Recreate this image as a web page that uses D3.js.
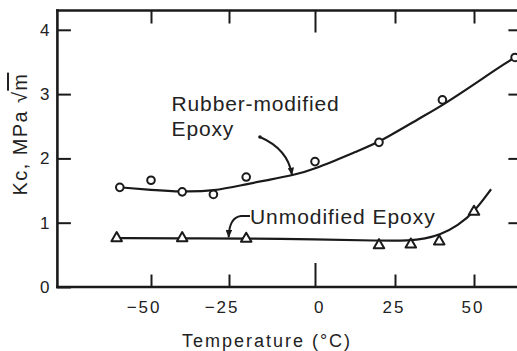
<!DOCTYPE html>
<html><head><meta charset="utf-8">
<script src="https://cdn.jsdelivr.net/npm/d3@7/dist/d3.min.js"></script>
<style>
html,body{margin:0;padding:0;background:#fff;}
svg{display:block;}
text{font-family:"Liberation Sans",Arial,Helvetica,sans-serif;fill:#222;}
</style></head>
<body>
<svg id="chart" width="517" height="351"></svg>
<script>
// ---- data ----
const tempTicks = [-50, -25, 0, 25, 50];
const kcTicks = [0, 1, 2, 3, 4];

// Rubber-modified epoxy: measured points (circles)
const rubberTemp = [-60, -50, -40, -30, -20, 0, 20, 40, 63];
const rubberKc   = [1.55, 1.66, 1.48, 1.44, 1.71, 1.95, 2.25, 2.91, 3.57];
// Rubber-modified epoxy: hand-drawn trend curve
const rubberFitTemp = [-60, -50, -40, -30, -20, -13, -6.4, -0.6, 14, 20, 33, 40.5, 50, 58, 63];
const rubberFitKc   = [1.55, 1.51, 1.48, 1.49, 1.60, 1.67, 1.74, 1.82, 2.13, 2.25, 2.63, 2.84, 3.15, 3.42, 3.57];

// Unmodified epoxy: measured points (triangles)
const unmodTemp = [-61, -40, -20, 20, 30, 39, 50];
const unmodKc   = [0.76, 0.76, 0.75, 0.65, 0.66, 0.71, 1.17];
// Unmodified epoxy: trend curve
const unmodFitTemp = [-61, -40, -20, 0, 20, 29.7, 34.5, 39.2, 44.9, 50.3, 55.4];
const unmodFitKc   = [0.76, 0.755, 0.755, 0.74, 0.72, 0.72, 0.75, 0.81, 0.95, 1.18, 1.52];

const xLabel = "Temperature (\u00B0C)";
const seriesNames = ["Rubber-modified", "Epoxy", "Unmodified Epoxy"];

// ---- scales ----
const svg = d3.select("#chart");
const ink = "#1a1a1a";
// the original axis is hand drawn with slightly uneven spacing -> polylinear scale
const x = d3.scaleLinear().domain(tempTicks).range([151, 229, 315, 395, 474]);
const y = d3.scaleLinear().domain([0, 4]).range([287, 29.8]);

const xL = x(-80), xR = x(65), yT = y(4.3), yB = y(0);

// ---- frame ----
const frame = svg.append("g").attr("stroke", ink).attr("stroke-width", 2.6).attr("stroke-linecap", "square");
frame.append("line").attr("x1", xL).attr("x2", xR).attr("y1", yT).attr("y2", yT);
frame.append("line").attr("x1", xL).attr("x2", xR).attr("y1", yB).attr("y2", yB);
frame.append("line").attr("x1", xL).attr("x2", xL).attr("y1", yT).attr("y2", yB);
frame.append("line").attr("x1", xR).attr("x2", xR).attr("y1", yT).attr("y2", yB);

function styleAxis(g) {
  g.select(".domain").remove();
  g.selectAll(".tick line").attr("stroke", ink).attr("stroke-width", 2);
  g.selectAll(".tick text").attr("fill", "#222").style("font-size", "17px")
    .style("font-family", '"Liberation Sans",Arial,sans-serif');
}

// bottom axis
const gB = svg.append("g").attr("transform", `translate(0,${yB})`)
  .call(d3.axisBottom(x).tickValues(tempTicks).tickSize(-12.5).tickPadding(14))
  .call(styleAxis);
gB.selectAll(".tick text").attr("text-anchor", "end").attr("dx", 10).style("letter-spacing", "2px");
gB.selectAll(".tick line").filter(d => d === 0).attr("y2", -24);

// top axis
const gT = svg.append("g").attr("transform", `translate(0,${yT})`)
  .call(d3.axisTop(x).tickValues(tempTicks).tickSize(-13).tickFormat(""))
  .call(styleAxis);
gT.selectAll(".tick line").filter(d => d === 0).attr("y2", 22);

// left axis
svg.append("g").attr("transform", `translate(${xL},0)`)
  .call(d3.axisLeft(y).tickValues(kcTicks).tickSize(-13.5).tickPadding(8).tickFormat(d3.format("d")))
  .call(styleAxis);

// right axis
svg.append("g").attr("transform", `translate(${xR},0)`)
  .call(d3.axisRight(y).tickValues(kcTicks.slice(1)).tickSize(-13).tickFormat(""))
  .call(styleAxis);

// axis titles
svg.append("text").attr("x", 267).attr("y", 347).attr("text-anchor", "middle")
  .style("font-size", "18px").style("letter-spacing", "2px").text(xLabel);

const yl = svg.append("text").attr("transform", "translate(27,134) rotate(-90)")
  .attr("text-anchor", "middle").style("font-size", "20px").style("letter-spacing", "1.4px");
yl.append("tspan").text("Kc, MPa \u221A");
yl.append("tspan").style("text-decoration", "overline").text("m");

// ---- curves ----
const line = d3.line().x(d => x(d[0])).y(d => y(d[1])).curve(d3.curveBasis);
svg.append("path").datum(d3.zip(rubberFitTemp, rubberFitKc)).attr("d", line)
  .attr("fill", "none").attr("stroke", ink).attr("stroke-width", 2.2);
svg.append("path").datum(d3.zip(unmodFitTemp, unmodFitKc)).attr("d", line)
  .attr("fill", "none").attr("stroke", ink).attr("stroke-width", 2.2);

// ---- markers ----
svg.append("g").selectAll("circle").data(d3.zip(rubberTemp, rubberKc)).join("circle")
  .attr("cx", d => x(d[0])).attr("cy", d => y(d[1])).attr("r", 3.8)
  .attr("fill", "#fff").attr("stroke", ink).attr("stroke-width", 2);

const tri = d3.symbol().type(d3.symbolTriangle).size(48);
svg.append("g").selectAll("path").data(d3.zip(unmodTemp, unmodKc)).join("path")
  .attr("d", tri).attr("transform", d => `translate(${x(d[0])},${y(d[1])})`)
  .attr("fill", "#fff").attr("stroke", ink).attr("stroke-width", 2).attr("stroke-linejoin", "round");

// ---- annotations ----
const defs = svg.append("defs");
defs.append("marker").attr("id", "ah").attr("viewBox", "0 0 10 8").attr("refX", 9).attr("refY", 4)
  .attr("markerWidth", 8).attr("markerHeight", 6.5).attr("markerUnits", "userSpaceOnUse")
  .attr("orient", "auto")
  .append("path").attr("d", "M0,0 L10,4 L0,8 Z").attr("fill", ink);

const lab1 = svg.append("text").attr("x", x(-43.4)).attr("y", y(2.73))
  .style("font-size", "21px").style("letter-spacing", "0.85px");
lab1.append("tspan").text(seriesNames[0]);
lab1.append("tspan").attr("x", x(-43.4)).attr("dy", 25).text(seriesNames[1]);

svg.append("text").attr("x", x(-18.9)).attr("y", y(0.985))
  .style("font-size", "21px").style("letter-spacing", "0.95px").text(seriesNames[2]);

// arrow to rubber-modified curve
const p = (t, k) => [x(t), y(k)];
const a0 = p(-16.0, 2.333), a1 = p(-11.3, 2.224), a2 = p(-7.6, 2.053), a3 = p(-6.7, 1.745);
svg.append("path").attr("d", `M${a0}C${a1} ${a2} ${a3}`).attr("fill", "none")
  .attr("stroke", ink).attr("stroke-width", 2).attr("marker-end", "url(#ah)");
svg.append("circle").attr("cx", a0[0]).attr("cy", a0[1]).attr("r", 1.8).attr("fill", ink);

// arrow to unmodified curve
const b0 = p(-18.9, 1.104), b1 = p(-21.5, 1.104), b2 = p(-23.8, 1.089), b3 = p(-25, 0.98), b4 = p(-25.1, 0.775);
svg.append("path").attr("d", `M${b0}L${b1}C${b2} ${b3} ${b4}`).attr("fill", "none")
  .attr("stroke", ink).attr("stroke-width", 2).attr("marker-end", "url(#ah)");
</script>
</body></html>
